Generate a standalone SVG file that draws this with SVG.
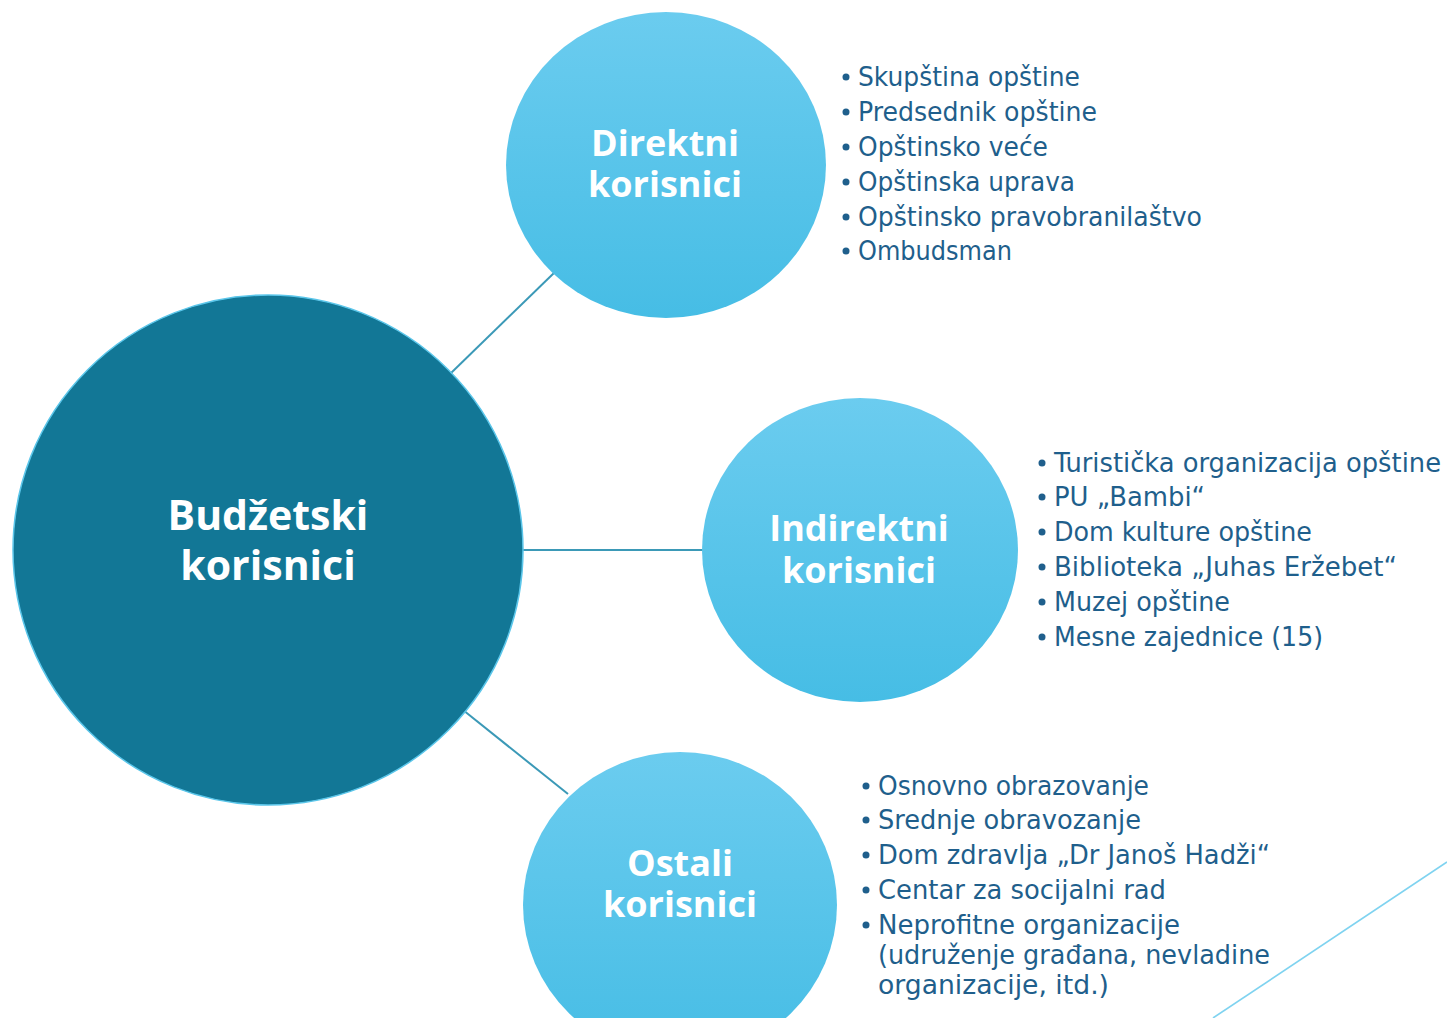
<svg xmlns="http://www.w3.org/2000/svg" width="1447" height="1018" viewBox="0 0 1447 1018">
<style>
.title{font-family:"Open Sans","DejaVu Sans",sans-serif;font-weight:700;fill:#ffffff;text-anchor:middle}
.item{font-family:"DejaVu Sans Condensed","DejaVu Sans",sans-serif;font-size:26px;fill:#1F5F8C}
.bul{fill:#1F5F8C}
.conn{stroke:#3B99B7;stroke-width:2;fill:none}
</style>
<defs>
<linearGradient id="g" x1="0" y1="0" x2="0" y2="1">
<stop offset="0" stop-color="#6BCCEF"/>
<stop offset="1" stop-color="#46BDE5"/>
</linearGradient>
</defs>
<rect width="1447" height="1018" fill="#ffffff"/>
<g id="connectors">
<line class="conn" x1="450" y1="374" x2="555" y2="272"/>
<line class="conn" x1="522" y1="550" x2="703" y2="550"/>
<line class="conn" x1="463" y1="710" x2="568" y2="794"/>
</g>
<line x1="1213" y1="1018" x2="1447" y2="862" stroke="#7FD3F0" stroke-width="1.6"/>
<g id="budzetski">
<circle cx="268" cy="550" r="255" fill="#127796" stroke="#5BC6EA" stroke-width="1.5"/>
<text class="title" font-size="41"><tspan x="268" y="530">Budžetski</tspan><tspan x="268" y="580">korisnici</tspan></text>
</g>
<g id="direktni">
<ellipse cx="666" cy="165" rx="160" ry="153" fill="url(#g)"/>
<text class="title" font-size="36"><tspan x="665" y="156">Direktni</tspan><tspan x="665" y="197">korisnici</tspan></text>
</g>
<g id="indirektni">
<ellipse cx="860" cy="550" rx="158" ry="152" fill="url(#g)"/>
<text class="title" font-size="36"><tspan x="859" y="541">Indirektni</tspan><tspan x="859" y="583">korisnici</tspan></text>
</g>
<g id="ostali">
<ellipse cx="680" cy="905" rx="157" ry="153" fill="url(#g)"/>
<text class="title" font-size="36"><tspan x="680" y="876">Ostali</tspan><tspan x="680" y="917">korisnici</tspan></text>
</g>
<g id="direktni-list">
<circle class="bul" cx="846" cy="77" r="3.5"/><text class="item" x="858" y="86" textLength="222" lengthAdjust="spacingAndGlyphs">Skupština opštine</text>
<circle class="bul" cx="846" cy="112" r="3.5"/><text class="item" x="858" y="121" textLength="239" lengthAdjust="spacingAndGlyphs">Predsednik opštine</text>
<circle class="bul" cx="846" cy="147" r="3.5"/><text class="item" x="858" y="156" textLength="190" lengthAdjust="spacingAndGlyphs">Opštinsko veće</text>
<circle class="bul" cx="846" cy="182" r="3.5"/><text class="item" x="858" y="191" textLength="217" lengthAdjust="spacingAndGlyphs">Opštinska uprava</text>
<circle class="bul" cx="846" cy="217" r="3.5"/><text class="item" x="858" y="226" textLength="344" lengthAdjust="spacingAndGlyphs">Opštinsko pravobranilaštvo</text>
<circle class="bul" cx="846" cy="251" r="3.5"/><text class="item" x="858" y="260" textLength="154" lengthAdjust="spacingAndGlyphs">Ombudsman</text>
</g>
<g id="indirektni-list">
<circle class="bul" cx="1042" cy="463" r="3.5"/><text class="item" x="1054" y="472" textLength="387" lengthAdjust="spacingAndGlyphs">Turistička organizacija opštine</text>
<circle class="bul" cx="1042" cy="497" r="3.5"/><text class="item" x="1054" y="506" textLength="151" lengthAdjust="spacingAndGlyphs">PU „Bambi“</text>
<circle class="bul" cx="1042" cy="532" r="3.5"/><text class="item" x="1054" y="541" textLength="258" lengthAdjust="spacingAndGlyphs">Dom kulture opštine</text>
<circle class="bul" cx="1042" cy="567" r="3.5"/><text class="item" x="1054" y="576" textLength="343" lengthAdjust="spacingAndGlyphs">Biblioteka „Juhas Eržebet“</text>
<circle class="bul" cx="1042" cy="602" r="3.5"/><text class="item" x="1054" y="611" textLength="176" lengthAdjust="spacingAndGlyphs">Muzej opštine</text>
<circle class="bul" cx="1042" cy="637" r="3.5"/><text class="item" x="1054" y="646" textLength="269" lengthAdjust="spacingAndGlyphs">Mesne zajednice (15)</text>
</g>
<g id="ostali-list">
<circle class="bul" cx="866" cy="786" r="3.5"/><text class="item" x="878" y="795" textLength="271" lengthAdjust="spacingAndGlyphs">Osnovno obrazovanje</text>
<circle class="bul" cx="866" cy="820" r="3.5"/><text class="item" x="878" y="829" textLength="263" lengthAdjust="spacingAndGlyphs">Srednje obravozanje</text>
<circle class="bul" cx="866" cy="855" r="3.5"/><text class="item" x="878" y="864" textLength="392" lengthAdjust="spacingAndGlyphs">Dom zdravlja „Dr Janoš Hadži“</text>
<circle class="bul" cx="866" cy="890" r="3.5"/><text class="item" x="878" y="899" textLength="288" lengthAdjust="spacingAndGlyphs">Centar za socijalni rad</text>
<circle class="bul" cx="866" cy="925" r="3.5"/><text class="item" x="878" y="934" textLength="302" lengthAdjust="spacingAndGlyphs">Neprofitne organizacije</text>
<text class="item" x="878" y="964" textLength="392" lengthAdjust="spacingAndGlyphs">(udruženje građana, nevladine</text>
<text class="item" x="878" y="994" textLength="231" lengthAdjust="spacingAndGlyphs">organizacije, itd.)</text>
</g>
</svg>
